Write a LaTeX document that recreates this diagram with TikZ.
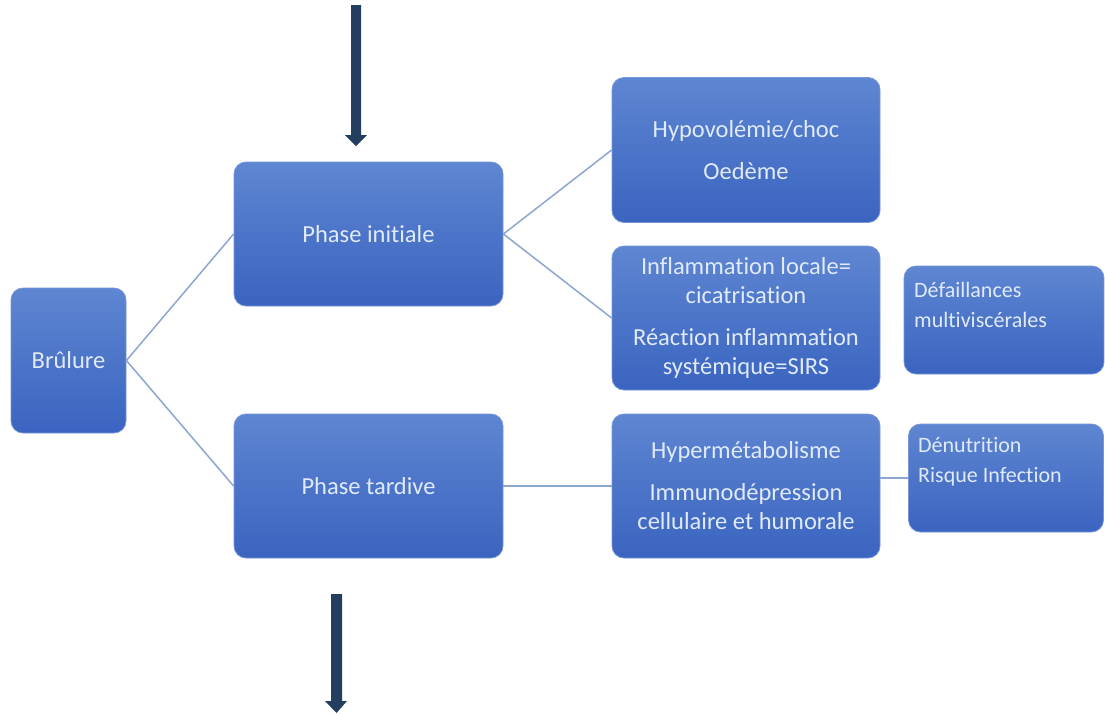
\documentclass[tikz,border=0pt]{standalone}
\usepackage{fontspec}
\setmainfont{Carlito}[Ligatures=NoCommon]
\definecolor{boxtop}{RGB}{94,134,210}
\definecolor{boxbot}{RGB}{58,100,192}
\definecolor{boxedge}{RGB}{118,150,214}
\definecolor{txt}{RGB}{224,234,248}
\definecolor{linkc}{RGB}{140,166,208}
\definecolor{navy}{RGB}{36,62,96}
\tikzset{
  box/.style={rectangle, rounded corners=12pt, top color=boxtop, bottom color=boxbot,
    draw=boxedge, line width=0.8pt, text=txt, align=center, inner sep=0pt,
    font=\fontsize{24.5}{29}\selectfont},
  smalltext/.style={text=txt, align=left, inner sep=0pt, anchor=base west,
    font=\fontsize{22}{29.5}\selectfont},
  link/.style={draw=linkc, line width=1.5pt},
  blockarrow/.style={fill=navy, draw=none}
}
\begin{document}
\begin{tikzpicture}[x=1pt,y=-1pt]
\useasboundingbox (0,0) rectangle (1105,713);

% main boxes
\node[box, minimum width=115pt, minimum height=145pt] (brulure) at (68.5,360.5) {Brûlure};
\node[box, minimum width=269pt, minimum height=144pt] (init) at (368.5,234) {Phase initiale};
\node[box, minimum width=269pt, minimum height=144pt] (tard) at (368.5,486) {Phase tardive};
\node[box, minimum width=268pt, minimum height=145pt] (hypo) at (746,150)
  {Hypovolémie/choc\\[13pt]Oedème};
\node[box, minimum width=268pt, minimum height=144pt] (inflam) at (746,318)
  {Inflammation locale=\\cicatrisation\\[13pt]Réaction inflammation\\systémique=SIRS};
\node[box, minimum width=268pt, minimum height=144pt] (hyper) at (746,486)
  {Hypermétabolisme\\[13pt]Immunodépression\\cellulaire et humorale};

% side boxes with top-left text (anchored on the last line's baseline)
\node[box, minimum width=200pt, minimum height=108pt] (defail) at (1004,320) {};
\node[smalltext] (defailtext) at (914,327) {Défaillances\\multiviscérales};
\node[box, minimum width=195pt, minimum height=108pt] (denut) at (1006,478) {};
\node[smalltext] (denuttext) at (918,482) {Dénutrition\\Risque Infection};

% connectors
\draw[link] (brulure.east) -- (init.west);
\draw[link] (brulure.east) -- (tard.west);
\draw[link] (init.east) -- (hypo.west);
\draw[link] (init.east) -- (inflam.west);
\draw[link] (tard.east) -- (hyper.west);
\draw[link] (hyper.east |- denut.west) -- (denut.west);

% block arrows
\fill[blockarrow] (351,5) -- (361,5) -- (361,135) -- (367,135) -- (356,146)
  -- (345,135) -- (351,135) -- cycle;
\fill[blockarrow] (331,594) -- (342,594) -- (342,701) -- (347,701) -- (336.5,713)
  -- (325,701) -- (331,701) -- cycle;
\end{tikzpicture}
\end{document}
